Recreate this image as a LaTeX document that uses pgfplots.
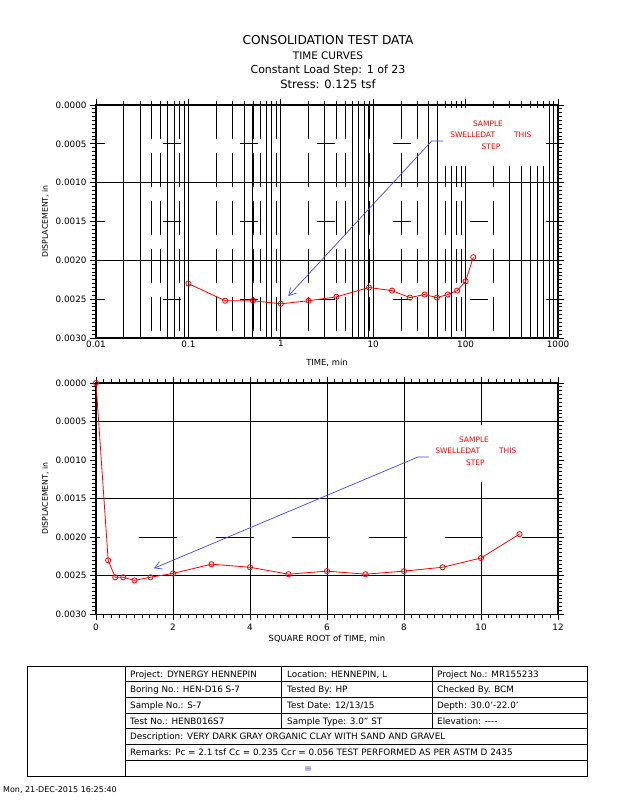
\documentclass[border=0pt]{standalone}
\usepackage{fontspec}
\setmainfont{DejaVu Sans}
\usepackage{pgfplots}
\usepackage{pgfplotstable}
\pgfplotsset{compat=1.18}
\usetikzlibrary{arrows.meta}
\definecolor{arrowblue}{RGB}{64,72,255}
\definecolor{plotred}{RGB}{255,0,0}
\newcommand\fs[1]{\fontsize{#1}{#1}\selectfont}

\pgfplotstableread{
t      s       d
0      0       0
0.1    0.3162  0.00230
0.25   0.5     0.00252
0.5    0.7071  0.00252
1      1       0.00256
2      1.4142  0.00252
4      2       0.00247
9      3       0.00235
16     4       0.00239
25     5       0.00248
36     6       0.00244
49     7       0.00248
64     8       0.00244
81     9       0.00239
100    10      0.00227
121    11      0.00196
}\consoldata

\tikzset{bluearrow/.style={arrowblue, line width=0.7pt, -{Straight Barb[length=7pt,width=8pt]}}}

\pgfplotsset{
  cadbase/.style={
    scale only axis, width=462pt, anchor=south west,
    ymin=0, ymax=0.003, y dir=reverse,
  },
  gridonly/.style={cadbase, axis line style={draw=none}, major tick length=0pt,
    minor tick length=0pt, xticklabels={}, yticklabels={}, scaled ticks=false},
  cadaxis/.style={cadbase,
    /pgf/number format/assume math mode=true,
    tick align=outside, major tick length=6pt, minor tick length=4pt,
    tick style={black, line width=0.9pt},
    axis line style={black, line width=1.3pt},
    ytick={0,0.0005,0.001,0.0015,0.002,0.0025,0.003},
    yticklabels={0.0000,0.0005,0.0010,0.0015,0.0020,0.0025,0.0030},
    minor y tick num=9, scaled y ticks=false,
    tick label style={font=\fs{8.8}},
    xlabel style={font=\fs{8.4}, at={(axis description cs:0.5,0)}, anchor=base, yshift=-27.5pt},
    ylabel style={font=\fs{7.8}},
    ylabel={DISPLACEMENT, in}, ylabel shift=-12pt,
    major grid style={black, line width=1pt},
  },
  dataline/.style={plotred, line width=0.8pt, mark=o, mark size=2.6pt, mark options={solid}},
}

\begin{document}
\begin{tikzpicture}
\useasboundingbox (0pt,0pt) rectangle (618pt,800pt);

% titles
\node[font=\fs{12.2}, anchor=base] at (328pt,755pt) {CONSOLIDATION TEST DATA};
\node[font=\fs{10.4}, anchor=base] at (328pt,740pt) {TIME CURVES};
\node[font=\fs{11}, anchor=base] at (328pt,726pt) {Constant Load Step: 1 of 23};
\node[font=\fs{11.5}, anchor=base] at (328pt,711.7pt) {Stress: 0.125 tsf};

% ---------- top plot: dashed horizontal grid overlay
\begin{axis}[gridonly, at={(96pt,462pt)}, height=233pt, xmode=log, xmin=0.01, xmax=1000,
  xtick=\empty, ytick={0.0005,0.0015,0.0025}, ymajorgrids,
  major grid style={black, line width=1pt, dash pattern=on 18pt off 58.5pt, dash phase=9pt}]
\end{axis}

% ---------- top plot main
\begin{axis}[cadaxis, at={(96pt,462pt)}, height=233pt,
  xmode=log, xmin=0.01, xmax=1000,
  xtick={0.01,0.1,1,10,100,1000}, xticklabels={0.01,0.1,1,10,100,1000},
  minor xtick={0.02,0.03,0.04,0.05,0.06,0.07,0.08,0.09,
               0.2,0.3,0.4,0.5,0.6,0.7,0.8,0.9,
               2,3,4,5,6,7,8,9,20,30,40,50,60,70,80,90,
               200,300,400,500,600,700,800,900},
  xtick pos=right, xticklabel pos=left, xticklabel shift=-7pt,
  xmajorgrids, xminorgrids,
  minor grid style={black, line width=0.9pt, dash pattern=on 34pt off 14pt},
  extra x ticks={0.02,0.03,0.06,0.07,0.09,0.4,0.5,0.7,0.8,3,6,7,8,9,40,50,70,300,400,500,600,700,800,900},
  extra x tick labels={}, extra x tick style={grid=major, major tick length=0pt},
  extra y ticks={0.001,0.002}, extra y tick labels={}, extra y tick style={grid=major},
  xlabel={TIME, min}]
\addplot[dataline, skip coords between index={0}{1}] table[x=t, y=d] {\consoldata};
\end{axis}

% ---------- bottom plot: dashed grid overlay at 0.0020
\begin{axis}[gridonly, at={(96pt,185.7pt)}, height=231.3pt, xmin=0, xmax=12,
  xtick=\empty, ytick={0.002}, ymajorgrids,
  major grid style={black, line width=1pt, dash pattern=on 38pt off 38.6pt, dash phase=33.6pt}]
\end{axis}

% ---------- bottom plot main
\begin{axis}[cadaxis, at={(96pt,185.7pt)}, height=231.3pt,
  xmin=0, xmax=12, xtick={0,2,4,6,8,10,12}, xticklabels={0,2,4,6,8,10,12},
  minor x tick num=9,
  extra x ticks={2,4,6,8,10}, extra x tick labels={}, extra x tick style={grid=major},
  extra y ticks={0.0005,0.0015,0.0025}, extra y tick labels={}, extra y tick style={grid=major},
  xlabel={SQUARE ROOT of TIME, min}]
\addplot[dataline] table[x=s, y=d] {\consoldata};
\end{axis}

% annotation boxes
\fill[white] (443pt,634pt) rectangle (545pt,692pt);
\fill[white] (429pt,318pt) rectangle (530pt,375pt);

% arrows (same geometry as the plots)
\begin{axis}[gridonly, at={(96pt,462pt)}, height=233pt, xmode=log, xmin=0.01, xmax=1000,
  xtick=\empty, ytick=\empty]
\draw[bluearrow] (axis cs:57.4,0.000464) -- (axis cs:42.9,0.000464) -- (axis cs:1.205,0.00246);
\end{axis}
\begin{axis}[gridonly, at={(96pt,185.7pt)}, height=231.3pt, xmin=0, xmax=12,
  xtick=\empty, ytick=\empty]
\draw[bluearrow] (axis cs:8.65,0.00096) -- (axis cs:8.36,0.00096) -- (axis cs:1.505,0.002403);
\end{axis}

% red annotations
\begin{scope}[every node/.style={text=plotred, font=\fs{7.5}, inner sep=0pt}]
\node at (488pt,676.3pt) {SAMPLE};
\node at (472.7pt,665.3pt) {SWELLEDAT};
\node at (522.7pt,665.3pt) {THIS};
\node at (491pt,653.3pt) {STEP};
\node at (474pt,360.7pt) {SAMPLE};
\node at (457.7pt,349.3pt) {SWELLEDAT};
\node at (507.7pt,349.3pt) {THIS};
\node at (475.3pt,337.3pt) {STEP};
\end{scope}

% ---------- info table
\begin{scope}[line width=0.8pt]
\draw (27pt,24pt) rectangle (587pt,134pt);
\draw (125pt,24pt) -- (125pt,134pt);
\foreach \yy in {118.3,102.6,86.9,71.1,55.4,39.7} {\draw (125pt,\yy pt) -- (587pt,\yy pt);}
\draw (281pt,71.1pt) -- (281pt,134pt);
\draw (432pt,71.1pt) -- (432pt,134pt);
\end{scope}
\begin{scope}[every node/.style={anchor=base west, font=\fs{8.8}, inner sep=0pt}]
\node at (130pt,122.8pt) {Project: DYNERGY HENNEPIN};
\node at (287pt,122.8pt) {Location: HENNEPIN, L};
\node at (437pt,122.8pt) {Project No.: MR155233};
\node at (130pt,107.2pt) {Boring No.: HEN{-}D16 S{-}7};
\node at (287pt,107.2pt) {Tested By: HP};
\node at (437pt,107.2pt) {Checked By. BCM};
\node at (130pt,91.5pt) {Sample No.: S{-}7};
\node at (287pt,91.5pt) {Test Date: 12/13/15};
\node at (437pt,91.5pt) {Depth: 30.0'{-}22.0'};
\node at (130pt,75.7pt) {Test No.: HENB016S7};
\node at (287pt,75.7pt) {Sample Type: 3.0{\char"0022} ST};
\node at (437pt,75.7pt) {Elevation: {-}{-}{-}{-}};
\node at (130pt,60pt) {Description: VERY DARK GRAY ORGANIC CLAY WITH SAND AND GRAVEL};
\node at (130pt,44.2pt) {Remarks: Pc = 2.1 tsf Cc = 0.235 Ccr = 0.056 TEST PERFORMED AS PER ASTM D 2435};
\end{scope}
\fill[black!25] (305pt,28.8pt) rectangle (311pt,34pt);
\draw[arrowblue!60, line width=0.4pt] (305.5pt,31.4pt) -- (310.5pt,31.4pt);

% footer
\node[anchor=base west, font=\fs{8}, inner sep=0pt] at (3pt,8pt) {Mon, 21{-}DEC{-}2015 16:25:40};
\end{tikzpicture}
\end{document}
